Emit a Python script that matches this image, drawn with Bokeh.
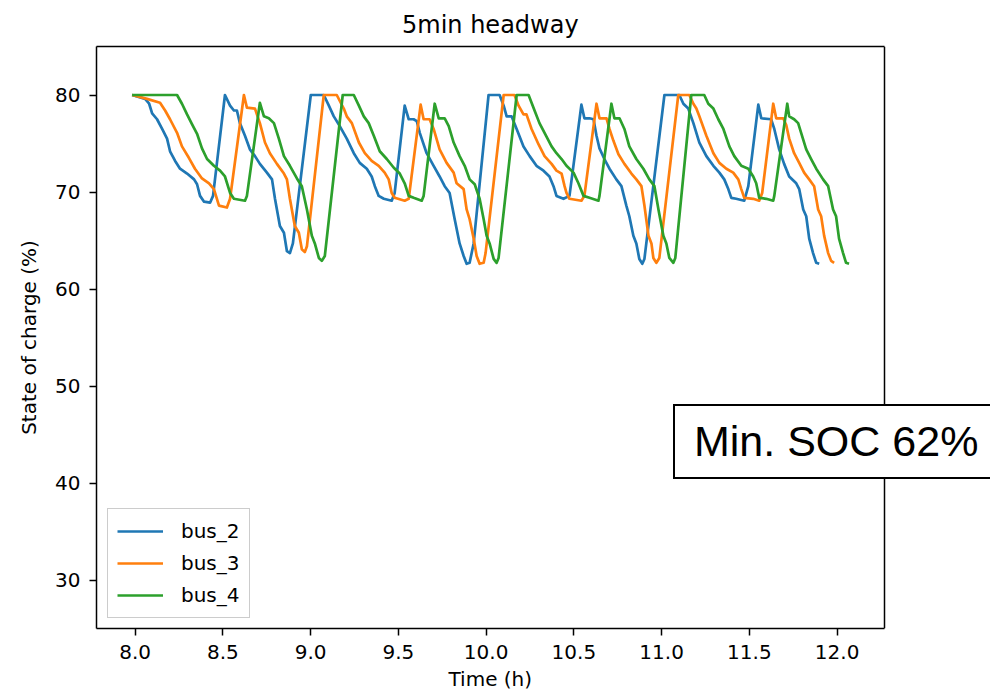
from bokeh.plotting import figure
from bokeh.models import (Range1d, FixedTicker, PrintfTickFormatter, Legend, LegendItem,
                          LinearAxis, Span, Title)
from bokeh.embed import file_html
from bokeh.resources import INLINE

# ---------------- data ----------------
title_text = "5min headway"
x_label = "Time (h)"
y_label = "State of charge (%)"
x_ticks = [8.0, 8.5, 9.0, 9.5, 10.0, 10.5, 11.0, 11.5, 12.0]
y_ticks = [30, 40, 50, 60, 70, 80]
x_min, x_max = 7.78, 12.27      # axes limits of the plot box
y_min, y_max = 25, 85
annotation_text = "Min. SOC 62%"

bus2_t = [7.983, 8.057, 8.080, 8.097, 8.125, 8.154, 8.182, 8.199, 8.228, 8.256, 8.296, 8.336, 8.353, 8.370, 8.393, 8.427, 8.444,
          8.512, 8.541, 8.563, 8.580, 8.597, 8.626, 8.654, 8.683, 8.711, 8.751, 8.780, 8.797, 8.825, 8.848, 8.865, 8.882, 8.899,
          9.001, 9.075, 9.104, 9.132, 9.166, 9.206, 9.246, 9.280, 9.320, 9.348, 9.366, 9.388, 9.417, 9.462, 9.479,
          9.536, 9.559, 9.587, 9.605, 9.622, 9.661, 9.701, 9.735, 9.764, 9.792, 9.821, 9.849, 9.872, 9.889, 9.906, 9.929,
          10.014, 10.077, 10.100, 10.117, 10.145, 10.174, 10.213, 10.248, 10.287, 10.327, 10.361, 10.384, 10.401, 10.441, 10.475,
          10.543, 10.560, 10.589, 10.612, 10.629, 10.646, 10.674, 10.703, 10.742, 10.771, 10.799, 10.816, 10.839, 10.856, 10.873, 10.890, 10.902,
          11.016, 11.101, 11.124, 11.152, 11.181, 11.215, 11.255, 11.295, 11.329, 11.357, 11.380, 11.397, 11.425, 11.471, 11.494,
          11.551, 11.568, 11.624, 11.642, 11.670, 11.698, 11.727, 11.767, 11.784, 11.807, 11.824, 11.841, 11.863, 11.881, 11.898]
bus2_soc = [80.0, 79.6, 79.1, 78.1, 77.5, 76.5, 75.5, 74.2, 73.2, 72.4, 71.9, 71.3, 70.8, 69.6, 69.0, 68.9, 69.6,
            80.0, 78.9, 78.4, 78.4, 77.1, 75.8, 74.4, 73.7, 72.9, 72.0, 71.3, 69.3, 66.5, 65.8, 63.9, 63.7, 64.7,
            80.0, 80.0, 78.9, 77.8, 76.8, 75.5, 74.0, 73.0, 72.4, 71.6, 70.6, 69.6, 69.3, 69.1, 69.9,
            78.9, 77.5, 77.5, 77.3, 76.1, 74.0, 72.7, 71.6, 70.6, 69.9, 67.2, 64.7, 63.4, 62.6, 62.7, 64.7,
            80.0, 80.0, 78.9, 77.8, 77.8, 76.5, 74.7, 73.7, 72.7, 72.2, 71.6, 70.6, 69.6, 69.3, 69.6,
            79.0, 77.6, 77.6, 77.5, 75.8, 74.5, 73.4, 72.4, 71.3, 70.6, 68.6, 67.5, 65.5, 64.7, 63.1, 62.6, 63.1,
            80.0, 80.0, 79.1, 78.6, 77.1, 75.1, 73.7, 72.7, 72.0, 71.3, 70.3, 69.4, 69.3, 69.1, 70.6,
            79.0, 77.6, 77.5, 76.5, 74.4, 72.9, 71.6, 70.9, 70.3, 68.2, 67.5, 65.2, 63.7, 62.7, 62.6]

bus3_t = [7.983, 8.068, 8.142, 8.171, 8.199, 8.239, 8.267, 8.307, 8.341, 8.381, 8.421, 8.449, 8.478, 8.523, 8.541,
          8.620, 8.637, 8.683, 8.711, 8.740, 8.768, 8.808, 8.848, 8.865, 8.882, 8.910, 8.933, 8.950, 8.967, 8.979,
          9.075, 9.149, 9.189, 9.206, 9.235, 9.275, 9.309, 9.348, 9.388, 9.422, 9.445, 9.462, 9.479, 9.536, 9.559,
          9.627, 9.644, 9.678, 9.701, 9.735, 9.775, 9.815, 9.832, 9.872, 9.889, 9.906, 9.929, 9.946, 9.963, 9.986, 9.997,
          10.100, 10.162, 10.185, 10.213, 10.230, 10.259, 10.299, 10.333, 10.373, 10.401, 10.430, 10.447, 10.458, 10.475, 10.543, 10.560,
          10.629, 10.646, 10.686, 10.703, 10.725, 10.754, 10.788, 10.828, 10.856, 10.885, 10.902, 10.925, 10.942, 10.953, 10.970, 10.987,
          11.095, 11.158, 11.181, 11.198, 11.215, 11.255, 11.295, 11.329, 11.369, 11.408, 11.437, 11.454, 11.471, 11.522, 11.556, 11.573,
          11.636, 11.653, 11.693, 11.710, 11.727, 11.755, 11.784, 11.812, 11.841, 11.869, 11.892, 11.909, 11.926, 11.949, 11.966, 11.983]
bus3_soc = [80.0, 79.6, 79.2, 78.4, 77.5, 76.1, 74.7, 73.5, 72.4, 71.4, 70.9, 70.3, 68.6, 68.4, 69.3,
            80.0, 78.7, 78.6, 77.1, 75.1, 74.0, 72.9, 71.9, 71.3, 69.3, 66.5, 65.8, 64.1, 63.8, 64.4,
            80.0, 80.0, 78.6, 77.8, 77.1, 75.1, 74.0, 73.2, 72.7, 72.0, 71.3, 69.9, 69.4, 69.1, 69.3,
            79.0, 77.5, 77.5, 76.5, 74.4, 73.0, 72.0, 70.9, 70.3, 68.2, 67.2, 65.2, 63.4, 62.6, 62.7, 63.7,
            80.0, 80.0, 78.9, 78.0, 78.0, 76.5, 74.9, 73.7, 72.9, 72.2, 71.9, 70.6, 69.9, 69.3, 69.1, 69.6,
            79.1, 77.6, 77.6, 76.5, 75.3, 73.9, 72.9, 71.9, 71.3, 70.6, 68.6, 65.5, 64.7, 63.2, 62.7, 63.2,
            80.0, 80.0, 79.1, 78.6, 77.8, 75.8, 74.0, 73.0, 72.4, 72.0, 71.3, 70.3, 69.4, 69.3, 69.1, 69.9,
            79.1, 77.6, 77.6, 76.9, 75.5, 74.0, 73.0, 72.0, 71.3, 70.6, 68.2, 67.5, 65.5, 63.7, 62.9, 62.7]

bus4_t = [7.983, 8.239, 8.267, 8.296, 8.324, 8.353, 8.381, 8.410, 8.449, 8.484, 8.512, 8.541, 8.563, 8.626, 8.637,
          8.711, 8.734, 8.762, 8.791, 8.819, 8.848, 8.882, 8.922, 8.950, 8.979, 9.007, 9.024, 9.047, 9.064, 9.081,
          9.183, 9.246, 9.275, 9.303, 9.331, 9.360, 9.394, 9.434, 9.474, 9.508, 9.536, 9.559, 9.587, 9.633, 9.644,
          9.707, 9.730, 9.764, 9.787, 9.815, 9.849, 9.878, 9.906, 9.935, 9.963, 9.986, 10.003, 10.020, 10.043, 10.060, 10.071,
          10.174, 10.242, 10.259, 10.276, 10.304, 10.333, 10.373, 10.401, 10.430, 10.458, 10.498, 10.526, 10.555, 10.589, 10.640, 10.646,
          10.714, 10.731, 10.760, 10.788, 10.816, 10.856, 10.896, 10.930, 10.959, 10.982, 11.010, 11.027, 11.044, 11.067, 11.078,
          11.169, 11.243, 11.266, 11.295, 11.323, 11.352, 11.386, 11.414, 11.454, 11.494, 11.522, 11.539, 11.556, 11.596, 11.636, 11.642,
          11.716, 11.727, 11.755, 11.778, 11.795, 11.824, 11.852, 11.881, 11.920, 11.949, 11.977, 11.994, 12.011, 12.034, 12.051, 12.068]
bus4_soc = [80.0, 80.0, 79.1, 78.0, 77.0, 76.0, 74.5, 73.4, 72.7, 72.2, 71.6, 69.9, 69.3, 69.1, 69.6,
            79.2, 77.8, 77.6, 77.1, 75.5, 73.7, 72.7, 71.4, 70.6, 68.2, 65.5, 64.7, 63.2, 62.9, 63.4,
            80.0, 80.0, 78.9, 77.8, 77.1, 75.8, 74.2, 73.4, 72.5, 71.9, 70.9, 69.6, 69.4, 69.1, 69.6,
            79.1, 77.6, 77.6, 76.8, 75.1, 73.7, 72.7, 71.3, 70.8, 69.3, 67.2, 65.5, 64.7, 63.1, 62.7, 63.2,
            80.0, 80.0, 79.2, 78.4, 77.1, 76.1, 74.7, 74.0, 73.4, 72.7, 72.0, 70.9, 69.6, 69.4, 69.1, 69.6,
            79.1, 77.6, 77.6, 76.5, 74.7, 73.4, 72.4, 71.3, 70.6, 68.2, 65.5, 64.7, 63.2, 62.7, 63.2,
            80.0, 80.0, 79.1, 78.6, 77.5, 76.5, 74.7, 73.7, 72.7, 72.4, 71.6, 70.9, 69.4, 69.3, 69.1, 69.6,
            79.1, 77.8, 77.5, 77.1, 76.1, 74.4, 73.4, 72.4, 71.3, 70.6, 68.2, 67.5, 65.2, 63.7, 62.7, 62.6]

series_names = ["bus_2", "bus_3", "bus_4"]
series_colors = ["#1f77b4", "#ff7f0e", "#2ca02c"]

# ---------------- figure ----------------
FONT = "DejaVu Sans"
W, H = 990, 694
BOX_LEFT, BOX_RIGHT, BOX_TOP, BOX_BOTTOM = 96, 884, 45, 66   # axes-box placement (px)
box_w = BOX_RIGHT - BOX_LEFT
px_per_unit = box_w / (x_max - x_min)
# the drawing area runs to the right edge of the canvas so the text box can overflow the axes box
x_end = x_max + (W - BOX_RIGHT) / px_per_unit

p = figure(width=W, height=H, output_backend="svg", toolbar_location=None,
           x_range=Range1d(x_min, x_end), y_range=Range1d(y_min, y_max),
           min_border_left=BOX_LEFT, min_border_right=0, min_border_top=BOX_TOP,
           min_border_bottom=BOX_BOTTOM, title=None)
p.xgrid.visible = False
p.ygrid.visible = False
p.outline_line_color = None
p.background_fill_color = "white"
p.border_fill_color = "white"

def style_axis(ax):
    ax.axis_line_color = "black"
    ax.axis_line_width = 1.5
    ax.major_tick_out = 7
    ax.major_tick_in = 0
    ax.major_tick_line_color = "black"
    ax.major_tick_line_width = 1.5
    ax.minor_tick_line_color = None
    ax.major_label_text_font = FONT
    ax.major_label_text_font_size = "20px"
    ax.major_label_text_color = "black"
    ax.axis_label_text_font = FONT
    ax.axis_label_text_font_size = "20px"
    ax.axis_label_text_font_style = "normal"
    ax.axis_label_text_color = "black"

for ax in p.axis:
    style_axis(ax)

p.xaxis.ticker = FixedTicker(ticks=x_ticks)
p.xaxis.formatter = PrintfTickFormatter(format="%.1f")
p.xaxis.bounds = (x_min, x_max)
p.xaxis.major_label_standoff = 9

p.yaxis.ticker = FixedTicker(ticks=y_ticks)
p.yaxis.formatter = PrintfTickFormatter(format="%d")
p.yaxis.axis_label = y_label
p.yaxis.major_label_standoff = 9
p.yaxis.axis_label_standoff = 11

# top spine
top = LinearAxis(ticker=FixedTicker(ticks=[]), bounds=(x_min, x_max))
style_axis(top)
top.major_tick_out = 0
top.major_label_standoff = 0
p.add_layout(top, "above")

# right spine of the axes box
p.add_layout(Span(location=x_max, dimension="height", line_color="black", line_width=1.5))

# title and x label, centred on the axes box
title_w = 177
p.add_layout(Title(text=title_text, align="left", offset=box_w / 2 - title_w / 2,
                   text_font=FONT, text_font_size="24px", text_font_style="normal",
                   text_line_height=1.0, text_color="black", standoff=16), "above")
xl_w = 84
p.add_layout(Title(text=x_label, align="left", offset=box_w / 2 - xl_w / 2,
                   text_font=FONT, text_font_size="20px", text_font_style="normal",
                   text_line_height=1.0, text_color="black", standoff=6), "below")

renderers = []
for t, s, c in zip([bus2_t, bus3_t, bus4_t], [bus2_soc, bus3_soc, bus4_soc], series_colors):
    r = p.line(t, s, line_color=c, line_width=2.7, line_join="round")
    renderers.append(r)

legend = Legend(items=[LegendItem(label=n, renderers=[r]) for n, r in zip(series_names, renderers)],
                location=(11, 10), margin=0, padding=9, spacing=6,
                glyph_width=46, glyph_height=26, label_height=26, label_standoff=18,
                label_text_font=FONT, label_text_font_size="20px", label_text_color="black",
                border_line_color="#cccccc", border_line_width=1, border_line_alpha=1.0,
                background_fill_color="white", background_fill_alpha=0.8)
p.add_layout(legend)

# text box "Min. SOC 62%" (a one-item legend with an invisible glyph)
dummy = p.line(x=[], y=[], line_alpha=0)
note = Legend(items=[LegendItem(label=annotation_text, renderers=[dummy])],
              location=(577, 149), margin=0, padding=11, spacing=0,
              glyph_width=8, glyph_height=45, label_height=45, label_width=320, label_standoff=0,
              label_text_font="Liberation Sans", label_text_font_size="43px", label_text_color="black",
              border_line_color="black", border_line_width=2, border_line_alpha=1.0,
              background_fill_color="white", background_fill_alpha=1.0)
p.add_layout(note)

open("out.html", "w").write(file_html(p, INLINE))
